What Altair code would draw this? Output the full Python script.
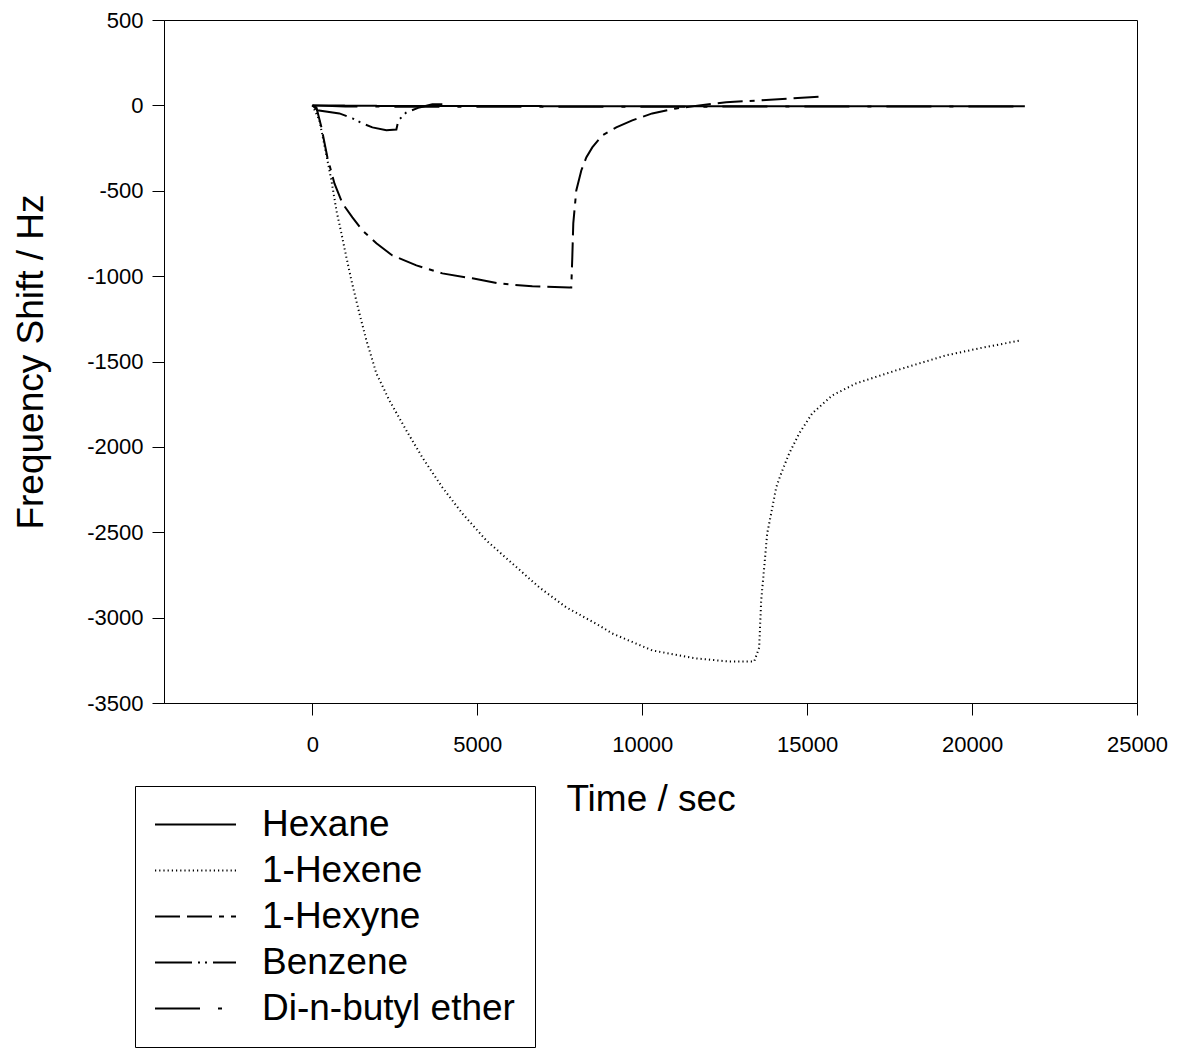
import altair as alt
import pandas as pd

# ---- data ----
series_names = ["Hexane", "1-Hexene", "1-Hexyne", "Benzene", "Di-n-butyl ether"]

hexane_t = [0, 2000, 5000, 10000, 15000, 21600]
hexane_v = [0, -3, -4, -5, -5, -5]

hexene_t = [0, 212, 576, 727, 879, 1030, 1182, 1424, 1636, 1939, 2333, 2848, 3333,
            3939, 4545, 5273, 6061, 6879, 7697, 8697, 9091, 10303, 11636, 12636,
            13394, 13545, 13606, 13697, 13788, 13909, 14061, 14212, 14455, 14758,
            15152, 15758, 16485, 17697, 19212, 20212, 21485]
hexene_v = [0, -88, -439, -615, -750, -890, -1025, -1218, -1376, -1570, -1728, -1904,
            -2062, -2237, -2390, -2548, -2683, -2823, -2940, -3046, -3093, -3192,
            -3239, -3257, -3257, -3175, -2899, -2706, -2507, -2390, -2237, -2155,
            -2038, -1921, -1804, -1699, -1628, -1552, -1464, -1423, -1376]

hexyne_t = [0, 121, 273, 455, 667, 909, 1212, 1515, 1939, 2424, 3152, 3939, 4848,
            5667, 6667, 7788, 7848, 7879, 7909, 8000, 8152, 8303, 8485, 8788, 9212,
            9697, 10303, 11030, 11727, 12545, 13545, 14545, 15515]
hexyne_v = [0, -12, -129, -305, -457, -574, -656, -732, -808, -879, -937, -984,
            -1013, -1043, -1060, -1066, -1066, -890, -691, -498, -381, -305, -246,
            -176, -129, -88, -47, -18, 0, 18, 29, 41, 53]

benzene_t = [0, 152, 818, 1212, 1515, 1818, 2242, 2545, 2606, 2848, 3242, 3636, 3939]
benzene_v = [0, -29, -47, -76, -105, -129, -146, -141, -88, -41, -12, 6, 6]

ether_t = [0, 1000, 3000, 8000, 14000, 21600]
ether_v = [0, -6, -8, -8, -7, -7]

dash_styles = [[1, 0], [1.2, 3], [25, 7, 25, 7, 5, 7], [37, 6, 2, 5, 2, 6], [45, 18, 4, 15]]

rows = []
for name, ts, vs in zip(series_names,
                        [hexane_t, hexene_t, hexyne_t, benzene_t, ether_t],
                        [hexane_v, hexene_v, hexyne_v, benzene_v, ether_v]):
    for t, v in zip(ts, vs):
        rows.append({"series": name, "time": t, "shift": v})
df = pd.DataFrame(rows)

FONT = "Liberation Sans"

chart = alt.Chart(df).mark_line(color="black", strokeWidth=2, clip=True).encode(
    x=alt.X("time:Q",
            scale=alt.Scale(domain=[-4500, 25000], nice=False, zero=False),
            axis=alt.Axis(title="Time / sec", values=[0, 5000, 10000, 15000, 20000, 25000],
                          labelExpr="'' + datum.value", grid=False,
                          labelFlush=False, labelOverlap=False,
                          titlePadding=26, labelPadding=19)),
    y=alt.Y("shift:Q",
            scale=alt.Scale(domain=[-3500, 500], nice=False, zero=False),
            axis=alt.Axis(title="Frequency Shift / Hz",
                          values=list(range(-3500, 501, 500)),
                          labelExpr="'' + datum.value", grid=False,
                          labelFlush=False, labelOverlap=False,
                          titlePadding=36, labelPadding=9)),
    strokeDash=alt.StrokeDash("series:N",
                              scale=alt.Scale(domain=series_names, range=dash_styles),
                              sort=series_names,
                              legend=alt.Legend(title=None, orient="none",
                                                legendX=-29, legendY=766,
                                                symbolType="M-3,0H3", symbolSize=729,
                                                symbolOffset=22,
                                                symbolStrokeColor="black",
                                                symbolStrokeWidth=2,
                                                labelFontSize=37, labelFont=FONT,
                                                labelColor="black", labelOffset=48,
                                                rowPadding=8, padding=20,
                                                strokeColor="black", fillColor="white",
                                                labelLimit=500)),
).properties(
    width=973, height=683,
    background="white",
    autosize=alt.AutoSizeParams(type="none"),
    padding={"left": 164, "top": 20, "right": 47, "bottom": 345},
).configure_view(
    stroke="black", strokeWidth=1
).configure_axis(
    grid=False, domainColor="black", tickColor="black", tickSize=12,
    labelColor="black", titleColor="black", labelFont=FONT, titleFont=FONT,
    labelFontSize=22, titleFontSize=37, titleFontWeight="normal",
    domainWidth=1, tickWidth=1
)

chart.save("out.html", embed_options={"renderer": "svg", "actions": False})
